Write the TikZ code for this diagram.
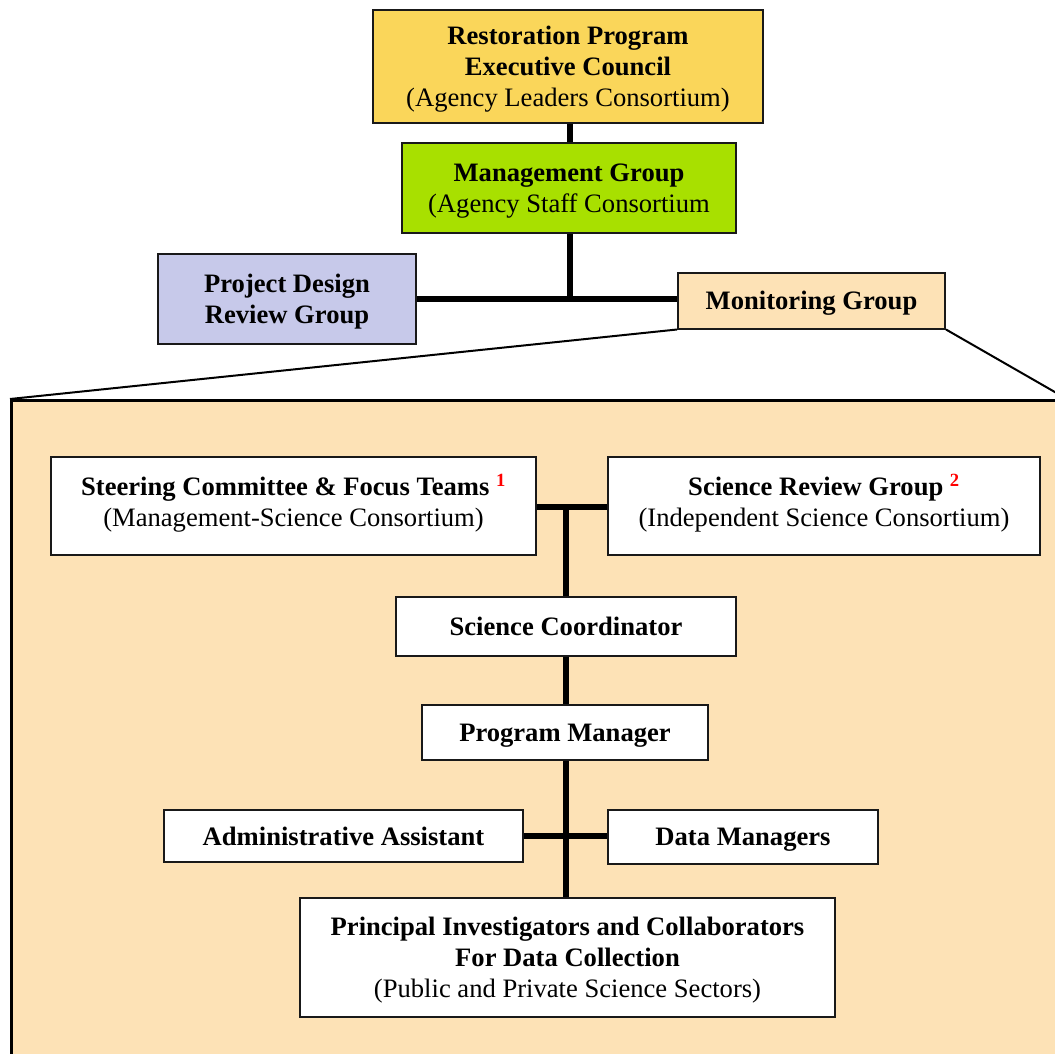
\documentclass[tikz,border=0pt]{standalone}
\usepackage{fontspec}
\setmainfont{Liberation Serif}
\definecolor{execfill}{RGB}{250,214,90}
\definecolor{mgmtfill}{RGB}{168,224,0}
\definecolor{pdfill}{RGB}{199,201,234}
\definecolor{monfill}{RGB}{253,226,182}
\definecolor{edge}{RGB}{25,25,25}
\begin{document}
\begin{tikzpicture}[x=1pt,y=-1pt,
  box/.style={draw=edge, line width=2pt, align=center, inner sep=2pt,
    text depth=0pt, font=\fontsize{26.6}{31}\selectfont},
  whitebox/.style={box, fill=white},
  link/.style={line width=6pt, black},
  slant/.style={line width=2pt, black}]
\clip (0,0) rectangle (1055,1054);

% expanded panel for the monitoring group
\node[draw=black, line width=3pt, fill=monfill, anchor=north west,
      minimum width=1054, minimum height=700] (panel) at (10,399) {};

% upper structure
\node[box, fill=execfill, minimum width=390, minimum height=113] (exec) at (568,66.5)
  {\textbf{Restoration Program}\\\textbf{Executive Council}\\(Agency Leaders Consortium)};
\node[box, fill=mgmtfill, minimum width=334, minimum height=90] (mgmt) at (569,188)
  {\textbf{Management Group}\\(Agency Staff Consortium};
\node[box, fill=pdfill, minimum width=258, minimum height=90] (pd) at (287,299)
  {\textbf{Project Design}\\\textbf{Review Group}};
\node[box, fill=monfill, minimum width=267, minimum height=56] (mon) at (811.5,300.5)
  {\textbf{Monitoring Group}};

\coordinate (spine) at (570,0);
\draw[link] (exec.south -| spine) -- (mgmt.north -| spine);
\draw[link] (mgmt.south -| spine) -- (spine |- pd.east);
\draw[link] (pd.east) -- (pd.east -| mon.west);

\draw[slant] (mon.south west) -- (panel.north west);
\draw[slant] (mon.south east) -- (panel.north east);

% monitoring group organisation
\node[whitebox, text depth=11pt, minimum width=485, minimum height=98] (steer) at (293.5,506)
  {\textbf{Steering Committee \& Focus Teams \textsuperscript{\textcolor{red}{1}}}\\(Management-Science Consortium)};
\node[whitebox, text depth=11pt, minimum width=432, minimum height=98] (srg) at (824,506)
  {\textbf{Science Review Group \textsuperscript{\textcolor{red}{2}}}\\(Independent Science Consortium)};
\node[whitebox, minimum width=340, minimum height=59] (sci) at (566,626.5)
  {\textbf{Science Coordinator}};
\node[whitebox, minimum width=286, minimum height=55] (pm) at (565,732.5)
  {\textbf{Program Manager}};
\node[whitebox, minimum width=359, minimum height=52] (admin) at (343.5,836)
  {\textbf{Administrative Assistant}};
\node[whitebox, minimum width=270, minimum height=54] (data) at (743,837)
  {\textbf{Data Managers}};
\node[whitebox, minimum width=535, minimum height=119] (pi) at (567.5,957.5)
  {\textbf{Principal Investigators and Collaborators}\\\textbf{For Data Collection}\\(Public and Private Science Sectors)};

\coordinate (top) at (566,507);
\draw[link] (steer.east |- top) -- (srg.west |- top);
\draw[link] (top) -- (top |- sci.north);
\draw[link] (sci.south -| top) -- (pm.north -| top);
\draw[link] (pm.south -| top) -- (pi.north -| top);
\draw[link] (admin.east) -- (admin.east -| data.west);
\end{tikzpicture}
\end{document}
